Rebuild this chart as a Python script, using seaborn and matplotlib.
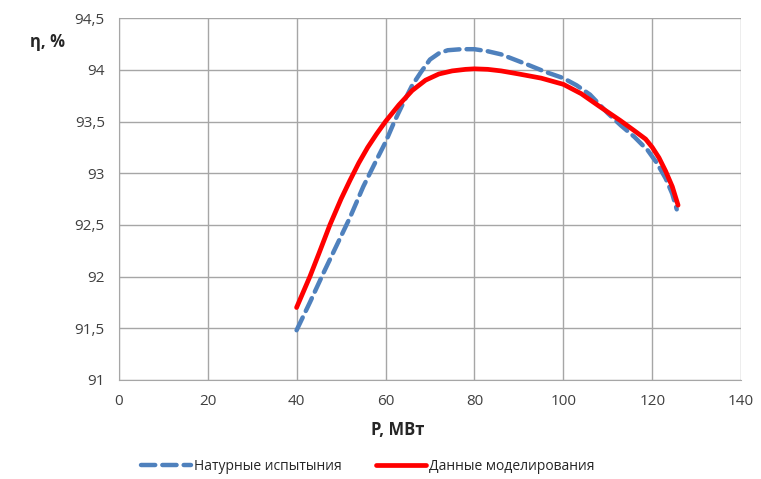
import matplotlib
matplotlib.use("Agg")
import matplotlib.pyplot as plt
import matplotlib.ticker as mticker
import seaborn as sns
import pandas as pd

# Натурные испытания (blue dashed)
test_p = [40, 43, 46, 49, 52, 55, 58, 60, 62, 64, 66, 68, 70, 72, 74, 77, 80, 83, 86, 89, 92, 96,
          100, 103, 106, 110, 113, 116, 119, 121, 123, 124.5, 125.5]
test_eff = [91.48, 91.75, 92.03, 92.3, 92.57, 92.87, 93.13, 93.3, 93.5, 93.68, 93.85, 93.98, 94.1,
            94.16, 94.19, 94.2, 94.2, 94.18, 94.15, 94.1, 94.05, 93.98, 93.92, 93.85, 93.76, 93.58,
            93.46, 93.35, 93.22, 93.1, 92.95, 92.8, 92.65]

# Данные моделирования (red)
model_p = [40, 43, 45, 47.5, 50, 52, 54, 56, 58, 60, 63, 66, 69, 72, 75, 78, 80, 83, 86, 90, 95,
           100, 104, 108, 112.8, 116, 118.5, 120, 121.5, 123, 124.5, 125.8]
model_eff = [91.7, 92.0, 92.22, 92.5, 92.75, 92.93, 93.1, 93.25, 93.38, 93.5, 93.66, 93.8, 93.9,
             93.96, 93.99, 94.005, 94.01, 94.005, 93.99, 93.96, 93.92, 93.86, 93.77, 93.65, 93.51,
             93.41, 93.33, 93.25, 93.15, 93.02, 92.87, 92.69]

x_ticks = [0, 20, 40, 60, 80, 100, 120, 140]
y_ticks = [91, 91.5, 92, 92.5, 93, 93.5, 94, 94.5]

sns.set_style("white")
plt.rcParams["font.family"] = ["Open Sans", "DejaVu Sans"]

fig = plt.figure(figsize=(7.61, 4.79), dpi=100)
ax = fig.add_axes([0.156, 0.207, 0.818, 0.755])

test_df = pd.DataFrame({"P": test_p, "eff": test_eff})
model_df = pd.DataFrame({"P": model_p, "eff": model_eff})

sns.lineplot(data=test_df, x="P", y="eff", ax=ax, color="#4F81BD", linewidth=3.2,
             linestyle=(0, (3.2, 1.6)), label="Натурные испытыния", sort=False, zorder=3,
             dash_capstyle="round", dash_joinstyle="round")
sns.lineplot(data=model_df, x="P", y="eff", ax=ax, color="#FF0000", linewidth=3.4,
             label="Данные моделирования", sort=False, zorder=4,
             solid_capstyle="round", solid_joinstyle="round")

ax.set_xlim(0, 140)
ax.set_ylim(91, 94.5)
ax.set_xticks(x_ticks)
ax.set_yticks(y_ticks)
ax.yaxis.set_major_formatter(mticker.FuncFormatter(lambda v, _: f"{v:g}".replace(".", ",")))
ax.grid(True, color="#a6a6a6", linewidth=1)
for s in ["top", "right"]:
    ax.spines[s].set_visible(False)
for s in ["left", "bottom"]:
    ax.spines[s].set_color("#a6a6a6")
ax.tick_params(axis="both", direction="out", length=4, color="#a6a6a6",
               labelsize=11, labelcolor="#404040", pad=6)
ax.set_xlabel("")
ax.set_ylabel("")

fig.text(0.04, 0.912, "η, %", fontsize=12, fontweight="bold", ha="left", va="center")
fig.text(0.523, 0.103, "P, МВт", fontsize=12, fontweight="bold", ha="center", va="center")

ax.legend(loc="center", bbox_to_anchor=(0.40, -0.24), ncol=2, frameon=False,
          fontsize=10, handlelength=3.6, columnspacing=2.5, handletextpad=0.2)

fig.savefig("out.png", dpi=100)
